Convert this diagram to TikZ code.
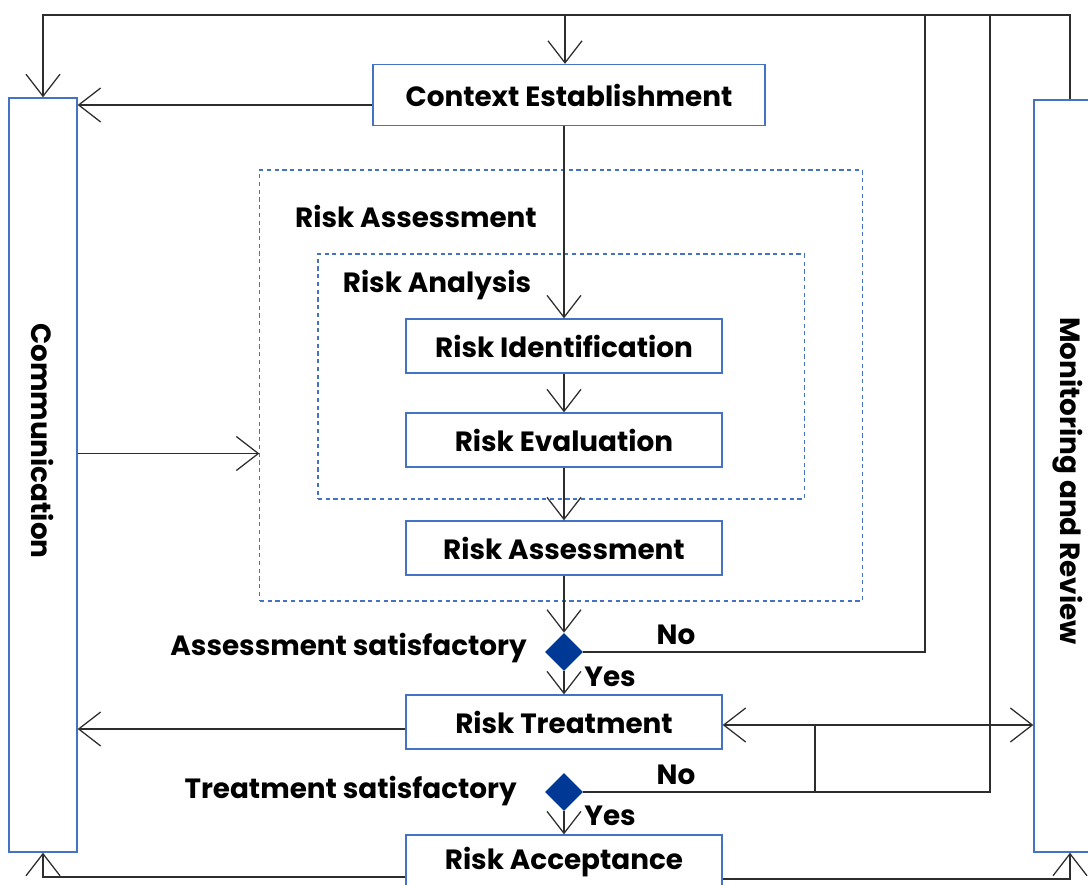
\documentclass[tikz,border=0pt]{standalone}
\usepackage{fontspec}
\setmainfont{Poppins}
\usetikzlibrary{arrows.meta,shapes.geometric}
\definecolor{boxblue}{RGB}{68,114,196}
\definecolor{diamblue}{RGB}{0,56,150}
\definecolor{linegray}{RGB}{45,45,45}
\tikzset{
    txt/.style={font=\bfseries\fontsize{19.8}{23}\selectfont, inner sep=0pt},
    stage/.style={draw=boxblue, line width=0.9pt, minimum width=7.9cm, minimum height=1.35cm, txt},
    panel/.style={draw=boxblue, line width=0.9pt, inner sep=0pt},
    zone/.style={draw=boxblue, line width=0.8pt, dash pattern=on 3pt off 2.5pt, inner sep=0pt},
    check/.style={diamond, fill=diamblue, inner sep=0pt, minimum width=0.95cm, minimum height=0.95cm},
    wire/.style={draw=linegray, line width=0.9pt},
    flow/.style={wire, -{Straight Barb[length=0.55cm,width=0.85cm]}},
    flows/.style={wire, {Straight Barb[length=0.55cm,width=0.85cm]}-{Straight Barb[length=0.55cm,width=0.85cm]}},
}
\begin{document}
\begin{tikzpicture}[x=0.025cm, y=-0.025cm]
\useasboundingbox (0,0) rectangle (1088,885);

% side panels
\node[panel, minimum width=1.7cm, minimum height=18.85cm] (comm) at (43,475) {};
\node[txt, rotate=-90] (commtxt) at (43,441) {Communication};
\node[panel, minimum width=1.8cm, minimum height=18.8cm] (mon) at (1070,476) {};
\node[txt, rotate=-90] (montxt) at (1068,481) {Monitoring and Review};

% assessment zones
\node[zone, minimum width=15.05cm, minimum height=10.775cm] (outer) at (561,385.5) {};
\node[zone, minimum width=12.15cm, minimum height=6.125cm] (inner) at (561,376.5) {};
\node[txt] (outertxt) at (416,216) {Risk Assessment};
\node[txt] (innertxt) at (437,285) {Risk Analysis};

% process stages
\node[stage, minimum width=9.8cm, minimum height=1.525cm] (ctx) at (569,95) {Context Establishment};
\node[stage] (ident) at (564,346) {Risk Identification};
\node[stage] (eval) at (564,440) {Risk Evaluation};
\node[stage] (assess) at (564,548) {Risk Assessment};
\node[check] (d1) at (564,652) {};
\node[stage] (treat) at (564,722) {Risk Treatment};
\node[check] (d2) at (564,792) {};
\node[stage] (accept) at (564,862) {Risk Acceptance};

% decision labels
\node[txt, anchor=east] (q1) at (527,648) {Assessment satisfactory};
\node[txt] (no1) at (676,635) {No};
\node[txt] (yes1) at (610,677) {Yes};
\node[txt, anchor=east] (q2) at (517,791) {Treatment satisfactory};
\node[txt] (no2) at (676,775) {No};
\node[txt] (yes2) at (610,816) {Yes};

% feedback rail along the top
\coordinate (top) at (565,15);
\coordinate (up1) at (925,15);
\coordinate (up2) at (990,15);
\coordinate (cin) at ([yshift=-1.7cm]outer.west);
\coordinate (cout) at ([yshift=-0.25cm]ctx.west);
\coordinate (tout) at ([yshift=-0.175cm]treat.west);
\coordinate (tback) at ([yshift=-0.075cm]treat.east);
\coordinate (junc) at (815,725);

% connectors
\draw[flow] (mon.north) |- (top) -| (comm.north);
\draw[flow] (top) -- (top |- ctx.north);
\draw[flow] (cout) -- (cout -| comm.east);
\draw[flow] (ident.north |- ctx.south) -- (ident);
\draw[flow] (ident) -- (eval);
\draw[flow] (eval) -- (assess);
\draw[flow] (assess) -- (d1);
\draw[flow] (d1) -- (treat);
\draw[flow] (d2) -- (accept);
\draw[flow] (cin -| comm.east) -- (cin);
\draw[wire] (d1.east) -| (up1);
\draw[wire] (d2.east) -| (up2);
\draw[flow] (tout) -- (tout -| comm.east);
\draw[flows] (tback) -- (tback -| mon.west);
\draw[wire] (junc) -- (junc |- d2.east);
\draw[flow] ([yshift=-0.375cm]accept.west) -| (comm.south);
\draw[flow] ([yshift=-0.425cm]accept.east) -| (mon.south);
\end{tikzpicture}
\end{document}
